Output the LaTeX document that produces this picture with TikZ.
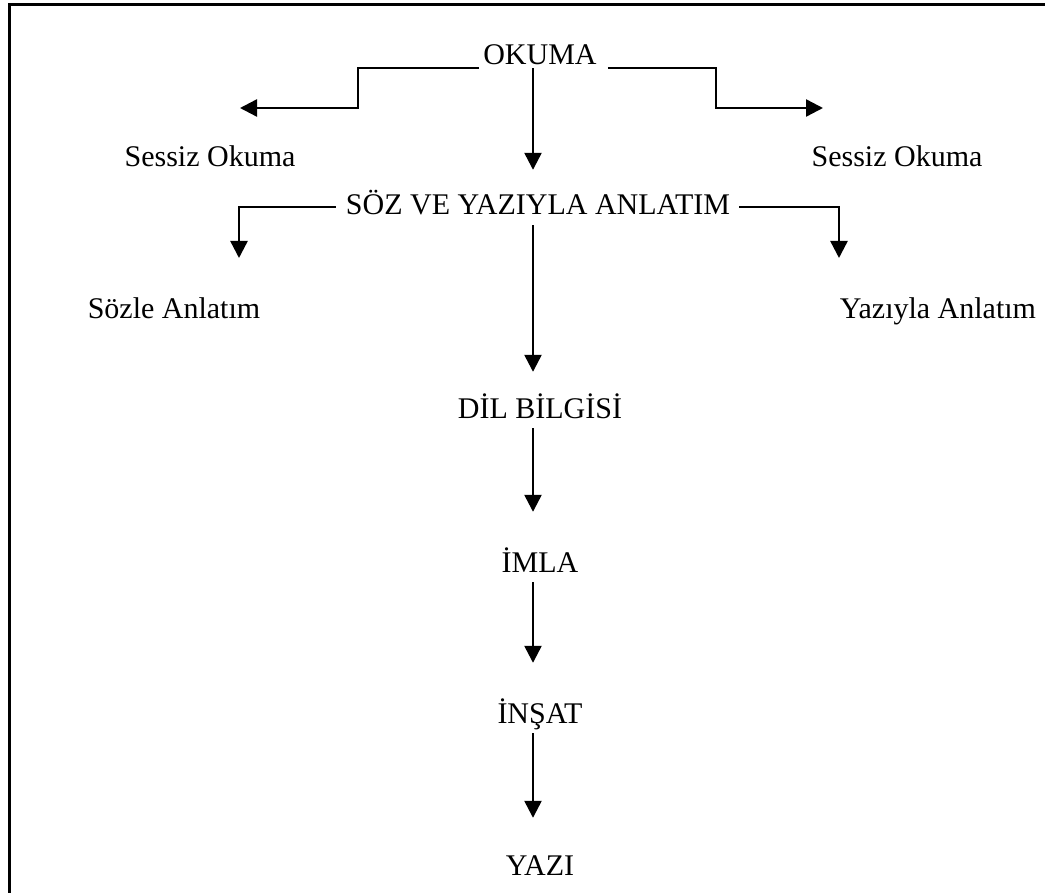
\documentclass[tikz,border=0pt]{standalone}
\usepackage{fontspec}
\setmainfont{Liberation Serif}
\usetikzlibrary{arrows.meta}

\begin{document}
\begin{tikzpicture}[x=1pt, y=-1pt,
    lbl/.style={font=\fontsize{30}{36}\selectfont, inner sep=0pt,
                text height=20pt, text depth=0pt},
    flow/.style={line width=2.4pt, -{Triangle[length=17pt, width=17pt]}},
    rule/.style={line width=1.6pt}]
  \useasboundingbox (0,0) rectangle (1045,893);

  %--- Frame ---
  \draw[line width=3pt] (9,900) -- (9,5) -- (1050,5);

  %--- Labels ---
  \node[lbl] (okuma)   at (540,55)  {OKUMA};
  \node[lbl] (sesL)    at (210,157) {Sessiz Okuma};
  \node[lbl] (sesR)    at (897,157) {Sessiz Okuma};
  \node[lbl] (soz)     at (538,205) {SÖZ VE YAZIYLA ANLATIM};
  \node[lbl] (sozle)   at (174,309) {Sözle Anlatım};
  \node[lbl] (yaziyla) at (938,309) {Yazıyla Anlatım};
  \node[lbl] (dil)     at (540,408) {DİL BİLGİSİ};
  \node[lbl] (imla)    at (540,562) {İMLA};
  \node[lbl] (insat)   at (540,713) {İNŞAT};
  \node[lbl] (yazi)    at (540,865) {YAZI};

  % free arrow ends
  \coordinate (bendL)      at (358,108);
  \coordinate (tipSesL)    at (240,108);
  \coordinate (bendR)      at (716,108);
  \coordinate (tipSesR)    at (823,108);
  \coordinate (cornerL)    at (239,207);
  \coordinate (tipSozle)   at (239,258);
  \coordinate (cornerR)    at (839,207);
  \coordinate (tipYaziyla) at (839,258);

  %--- OKUMA branches ---
  \draw[flow] ([shift={(-4,13)}]okuma.west) -| (bendL) -- (tipSesL);
  \draw[flow] ([shift={(11,13)}]okuma.east) -| (bendR) -- (tipSesR);

  %--- SÖZ VE YAZIYLA ANLATIM branches ---
  \draw[rule] ([shift={(-10,2)}]soz.west) -- ([xshift=-0.8pt]cornerL);
  \draw[flow] (cornerL) -- (tipSozle);
  \draw[rule] ([shift={(9,2)}]soz.east) -- ([xshift=0.8pt]cornerR);
  \draw[flow] (cornerR) -- (tipYaziyla);

  %--- Main chain ---
  \draw[flow] ([shift={(-7,3)}]okuma.south)  -- ([shift={(-5,-25)}]soz.north);
  \draw[flow] ([shift={(-5,10)}]soz.south)   -- ([shift={(-7,-26)}]dil.north);
  \draw[flow] ([shift={(-7,10)}]dil.south)   -- ([shift={(-7,-40)}]imla.north);
  \draw[flow] ([shift={(-7,10)}]imla.south)  -- ([shift={(-7,-40)}]insat.north);
  \draw[flow] ([shift={(-7,10)}]insat.south) -- ([shift={(-7,-37)}]yazi.north);

\end{tikzpicture}
\end{document}
